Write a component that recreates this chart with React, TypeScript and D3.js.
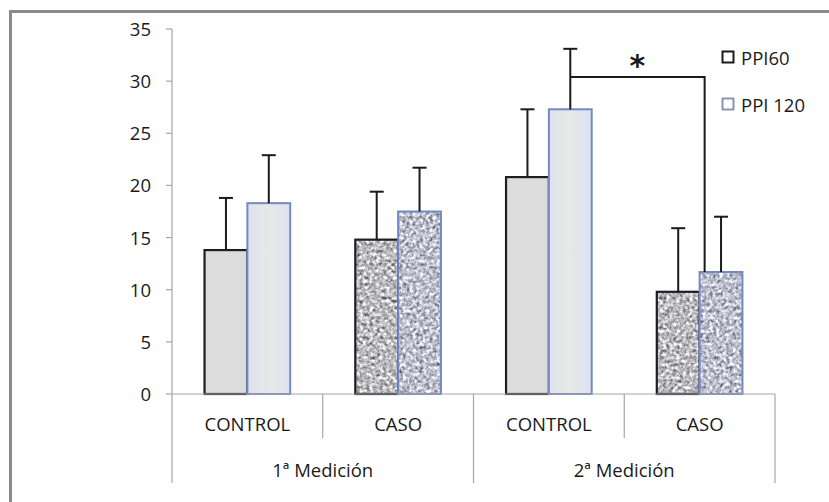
import React from "react";
import * as d3 from "d3";

// Measurement groups, each split into two subject categories
const groups = ["1ª Medición", "2ª Medición"];
const categories = ["CONTROL", "CASO", "CONTROL", "CASO"];
const categoryGroup = [0, 0, 1, 1];
const series = ["PPI60", "PPI 120"];

// Means and standard deviations per category
const ppi60 = [13.8, 14.8, 20.8, 9.8];
const ppi60Err = [5.0, 4.6, 6.5, 6.1];
const ppi120 = [18.3, 17.5, 27.3, 11.7];
const ppi120Err = [4.6, 4.2, 5.8, 5.3];

const yTicks = [0, 5, 10, 15, 20, 25, 30, 35];

// Significance bracket between 2ª Medición CONTROL and CASO (PPI 120)
const bracketLevel = 30.4;

const W = 829;
const H = 502;
const FONT = "'Open Sans', sans-serif";

export default function App() {
  const left = 172;
  const right = 775;
  const axisY0 = 394;
  const axisTop = 29;

  const y = d3.scaleLinear().domain([0, 35]).range([axisY0, axisTop]);
  const x0 = d3
    .scaleBand<number>()
    .domain(d3.range(categories.length))
    .range([left, right])
    .padding(0);
  const x1 = d3
    .scaleBand<number>()
    .domain([0, 1])
    .range([0, x0.bandwidth()])
    .paddingInner(0)
    .paddingOuter(0.76);

  const values = [ppi60, ppi120];
  const errors = [ppi60Err, ppi120Err];
  const bw = x1.bandwidth();
  const capHalf = 7;

  const isCaso = (i: number) => categories[i] === "CASO";

  // bracket endpoints
  const bx1 = x0(2)! + x1(1)! + bw / 2;
  const bx2 = x0(3)! + x1(1)! + 5;
  const bTop = y(bracketLevel);
  const bBottom = y(ppi120[3]);

  const groupBounds = groups.map((_, g) => {
    const idx = categoryGroup
      .map((cg, i) => (cg === g ? i : -1))
      .filter((i) => i >= 0);
    const start = x0(idx[0])!;
    const end = x0(idx[idx.length - 1])! + x0.bandwidth();
    return { start, end, mid: (start + end) / 2 };
  });

  return (
    <svg
      width={W}
      height={H}
      style={{ position: "absolute", left: 0, top: 0, background: "#fff" }}
      fontFamily={FONT}
    >
      <defs>
        <linearGradient id="lightBlue" x1="0" x2="1" y1="0" y2="0">
          <stop offset="0" stopColor="#dfe2ee" />
          <stop offset="0.5" stopColor="#e6e9e6" />
          <stop offset="1" stopColor="#dde2f2" />
        </linearGradient>
        <filter id="granite60" x="0" y="0" width="1" height="1" colorInterpolationFilters="sRGB">
          <feTurbulence type="fractalNoise" baseFrequency="0.3" numOctaves="2" seed="4" result="n" />
          <feColorMatrix
            in="n"
            type="matrix"
            values="0.6 0.6 0.6 0 -0.17  0.6 0.6 0.6 0 -0.17  0.6 0.6 0.6 0 -0.15  0 0 0 0 1"
            result="g"
          />
          <feGaussianBlur in="g" stdDeviation="0.5" result="b" />
          <feComposite in="b" in2="SourceGraphic" operator="in" />
        </filter>
        <filter id="granite120" x="0" y="0" width="1" height="1" colorInterpolationFilters="sRGB">
          <feTurbulence type="fractalNoise" baseFrequency="0.3" numOctaves="2" seed="9" result="n" />
          <feColorMatrix
            in="n"
            type="matrix"
            values="0.58 0.58 0.58 0 -0.13  0.58 0.58 0.58 0 -0.12  0.58 0.58 0.58 0 -0.07  0 0 0 0 1"
            result="g"
          />
          <feGaussianBlur in="g" stdDeviation="0.5" result="b" />
          <feComposite in="b" in2="SourceGraphic" operator="in" />
        </filter>
      </defs>

      {/* frame */}
      <line x1={10.5} x2={10.5} y1={10} y2={H} stroke="#8a8a8a" strokeWidth={3} />
      <line x1={9} x2={W} y1={11.5} y2={11.5} stroke="#8a8a8a" strokeWidth={3} />

      {/* y axis */}
      <line x1={left} x2={left} y1={axisTop} y2={axisY0} stroke="#a6a6a6" strokeWidth={1.2} />
      {yTicks.map((t) => (
        <g key={t}>
          <line x1={left - 6} x2={left} y1={y(t)} y2={y(t)} stroke="#a6a6a6" strokeWidth={1.2} />
          <text x={151} y={y(t) + 7} textAnchor="end" fontSize={18.5} fill="#1a1a1a">
            {t}
          </text>
        </g>
      ))}

      {/* bars */}
      {categories.map((_, i) =>
        [0, 1].map((s) => {
          const bx = x0(i)! + x1(s)!;
          const by = y(values[s][i]);
          const bh = axisY0 - by;
          return (
            <g key={`${i}-${s}`}>
              {isCaso(i) ? (
                <rect
                  x={bx}
                  y={by}
                  width={bw}
                  height={bh}
                  fill="#999"
                  filter={s === 0 ? "url(#granite60)" : "url(#granite120)"}
                />
              ) : (
                <rect
                  x={bx}
                  y={by}
                  width={bw}
                  height={bh}
                  fill={s === 0 ? "#dcdcdc" : "url(#lightBlue)"}
                />
              )}
              <rect
                x={bx}
                y={by}
                width={bw}
                height={bh}
                fill="none"
                stroke={s === 0 ? "#1e1e1e" : "#7389c4"}
                strokeWidth={s === 0 ? 2.2 : 2}
              />
            </g>
          );
        })
      )}

      {/* error bars */}
      {categories.map((_, i) =>
        [0, 1].map((s) => {
          const cx = x0(i)! + x1(s)! + bw / 2;
          const yTop = y(values[s][i] + errors[s][i]);
          const yBase = y(values[s][i]);
          return (
            <g key={`e${i}-${s}`} stroke="#1a1a1a" strokeWidth={2}>
              <line x1={cx} x2={cx} y1={yBase} y2={yTop} />
              <line x1={cx - capHalf} x2={cx + capHalf} y1={yTop} y2={yTop} />
            </g>
          );
        })
      )}

      {/* significance bracket */}
      <path
        d={`M${bx1},${bTop}H${bx2}V${bBottom}`}
        fill="none"
        stroke="#1a1a1a"
        strokeWidth={2}
      />
      <text
        x={(bx1 + bx2) / 2}
        y={bTop - 1}
        textAnchor="middle"
        fontSize={30}
        fontWeight="bold"
        fontFamily="'DejaVu Sans', sans-serif"
        fill="#1a1a1a"
      >
        *
      </text>

      {/* x axis */}
      <line x1={left} x2={right} y1={axisY0} y2={axisY0} stroke="#a6a6a6" strokeWidth={1.2} />
      {categories.map((c, i) => (
        <text
          key={`c${i}`}
          x={x0(i)! + x0.bandwidth() / 2}
          y={431}
          textAnchor="middle"
          fontSize={18.5}
          fill="#1a1a1a"
        >
          {c}
        </text>
      ))}
      {d3.range(categories.length + 1).map((i) => {
        const xx = i < categories.length ? x0(i)! : right;
        const isGroupEdge =
          i === 0 || i === categories.length || categoryGroup[i] !== categoryGroup[i - 1];
        return (
          <line
            key={`s${i}`}
            x1={xx}
            x2={xx}
            y1={axisY0}
            y2={isGroupEdge ? 483 : 438}
            stroke="#a6a6a6"
            strokeWidth={1.2}
          />
        );
      })}
      {groups.map((g, gi) => (
        <text
          key={g}
          x={groupBounds[gi].mid}
          y={477}
          textAnchor="middle"
          fontSize={18.5}
          fill="#1a1a1a"
        >
          {g}
        </text>
      ))}

      {/* legend */}
      {series.map((s, si) => (
        <g key={s} transform={`translate(722, ${51 + si * 47})`}>
          <rect
            x={0.5}
            y={0.5}
            width={11}
            height={11}
            fill="#fff"
            stroke={si === 0 ? "#1a1a1a" : "#8a95b0"}
            strokeWidth={2}
          />
          <text x={19} y={14} fontSize={18.5} fill="#1a1a1a">
            {s}
          </text>
        </g>
      ))}
    </svg>
  );
}
